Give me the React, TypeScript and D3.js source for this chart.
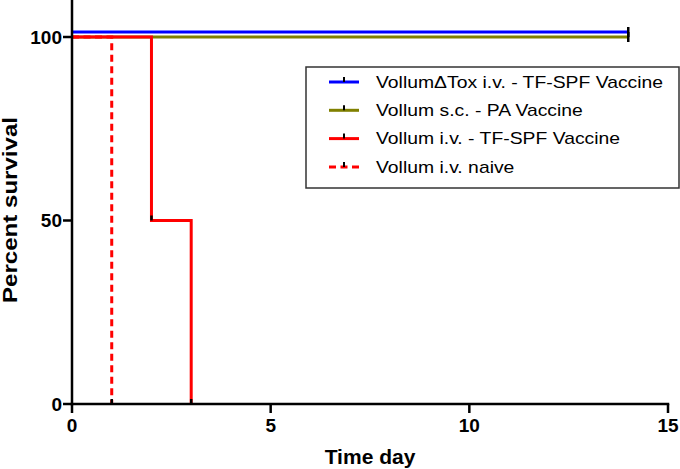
import React from "react";
import * as d3 from "d3";

const xTicks = [0, 5, 10, 15];
const yTicks = [0, 50, 100];

const seriesNames = [
  "VollumΔTox i.v. - TF-SPF Vaccine",
  "Vollum s.c. - PA Vaccine",
  "Vollum i.v. - TF-SPF Vaccine",
  "Vollum i.v. naive",
];
const seriesColors = ["#0000ff", "#808000", "#ff0000", "#ff0000"];
const seriesDashed = [false, false, false, true];
const seriesOffset = [-5, 0, 0, 0];

const blueDays = [0, 14];
const blueSurvival = [100, 100];
const oliveDays = [0, 14];
const oliveSurvival = [100, 100];
const redDays = [0, 2, 3];
const redSurvival = [100, 50, 0];
const naiveDays = [0, 1];
const naiveSurvival = [100, 0];

const seriesDays = [blueDays, oliveDays, redDays, naiveDays];
const seriesSurv = [blueSurvival, oliveSurvival, redSurvival, naiveSurvival];
const censoredAt = [14, 14, null, null];

const W = 680;
const H = 469;
const FONT = "Arial, 'Liberation Sans', Helvetica, sans-serif";

export default function App() {
  const x = d3.scaleLinear().domain([0, 15]).range([72, 668]);
  const y = d3.scaleLinear().domain([0, 100]).range([404, 37]);

  const line = d3
    .line<[number, number]>()
    .x((d) => x(d[0]))
    .y((d) => y(d[1]))
    .curve(d3.curveStepAfter);

  const marks: React.ReactNode[] = [];
  seriesDays.forEach((days, si) => {
    const surv = seriesSurv[si];
    for (let i = 1; i < days.length; i++) {
      if (surv[i] < surv[i - 1]) {
        const px = x(days[i]);
        const py = y(surv[i]) + seriesOffset[si];
        marks.push(
          <line key={`m${si}-${i}`} x1={px} x2={px} y1={py} y2={py - 5} stroke="#000" strokeWidth={2.5} />
        );
      }
    }
    const c = censoredAt[si];
    if (c !== null) {
      const px = x(c);
      const py = y(surv[surv.length - 1]) + seriesOffset[si];
      marks.push(
        <line key={`c${si}`} x1={px} x2={px} y1={py - 5} y2={py + 5} stroke="#000" strokeWidth={2.5} />
      );
    }
  });

  const legX = 306;
  const legY = 67;
  const legW = 373;
  const legH = 121;

  return (
    <svg width={W} height={H} style={{ position: "absolute", left: 0, top: 0, background: "#fff" }}>
      <rect width={W} height={H} fill="#fff" />
      {seriesDays.map((days, si) => {
        const pts: [number, number][] = days.map((d, i) => [d, seriesSurv[si][i]]);
        return (
          <path
            key={si}
            d={line(pts) || ""}
            transform={`translate(0,${seriesOffset[si]})`}
            fill="none"
            stroke={seriesColors[si]}
            strokeWidth={3}
            strokeDasharray={seriesDashed[si] ? "7,4.5" : undefined}
          />
        );
      })}
      {marks}
      {/* axes */}
      <line x1={x(0)} x2={x(0)} y1={0} y2={y(0) + 1.25} stroke="#000" strokeWidth={2.5} />
      <line x1={x(0) - 1.25} x2={x(15) + 1.25} y1={y(0)} y2={y(0)} stroke="#000" strokeWidth={2.5} />
      {yTicks.map((t) => (
        <g key={`yt${t}`}>
          <line x1={x(0) - 9} x2={x(0)} y1={y(t)} y2={y(t)} stroke="#000" strokeWidth={2.5} />
          <text
            x={62}
            y={y(t)}
            dy="0.36em"
            textAnchor="end"
            fontFamily={FONT}
            fontWeight="bold"
            fontSize={19}
          >
            {t}
          </text>
        </g>
      ))}
      {xTicks.map((t) => (
        <g key={`xt${t}`}>
          <line x1={x(t)} x2={x(t)} y1={y(0)} y2={y(0) + 9} stroke="#000" strokeWidth={2.5} />
          <text x={x(t)} y={432} textAnchor="middle" fontFamily={FONT} fontWeight="bold" fontSize={19}>
            {t}
          </text>
        </g>
      ))}
      <text x={370} y={464} textAnchor="middle" fontFamily={FONT} fontWeight="bold" fontSize={21}>
        Time day
      </text>
      <text
        transform={`translate(17,210) rotate(-90)`}
        textAnchor="middle"
        fontFamily={FONT}
        fontWeight="bold"
        fontSize={20}
        textLength={186}
        lengthAdjust="spacingAndGlyphs"
      >
        Percent survival
      </text>
      {/* legend */}
      <rect x={legX} y={legY} width={legW} height={legH} fill="#fff" stroke="#333" strokeWidth={1.5} />
      {seriesNames.map((name, i) => {
        const cy = 82 + i * 28.3;
        return (
          <g key={`lg${i}`}>
            <line
              x1={329}
              x2={359}
              y1={cy}
              y2={cy}
              stroke={seriesColors[i]}
              strokeWidth={3}
              strokeDasharray={seriesDashed[i] ? "7,4.5" : undefined}
            />
            <line x1={344} x2={344} y1={cy} y2={cy - 5} stroke="#000" strokeWidth={2} />
            <text
              transform={`translate(376,${cy}) scale(1.21,1)`}
              dy="0.36em"
              fontFamily={FONT}
              fontSize={16}
              fill="#000"
            >
              {name}
            </text>
          </g>
        );
      })}
    </svg>
  );
}
